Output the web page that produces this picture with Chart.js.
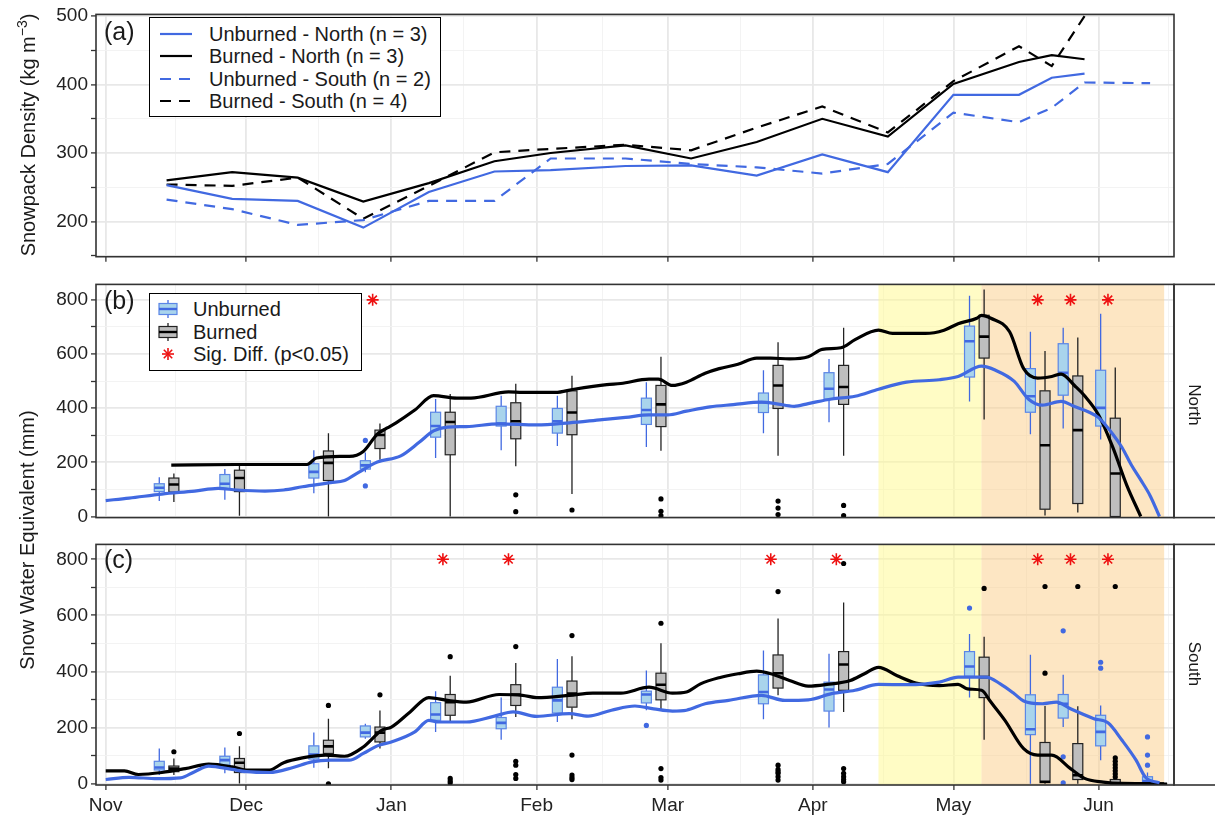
<!DOCTYPE html>
<html>
<head>
<meta charset="utf-8">
<script src="https://cdn.jsdelivr.net/npm/chart.js@4.4.1/dist/chart.umd.min.js"></script>
<style>
  body { margin: 0; background: #fff; }
  #fig { position: relative; width: 1215px; height: 821px; font-family: "Liberation Sans", Arial, sans-serif; color: #1a1a1a; overflow: hidden; }
  canvas { position: absolute; left: 0; }
  .vt { position: absolute; white-space: nowrap; z-index: 2; transform: translate(-50%, -50%) rotate(-90deg); font-size: 20px; }
  .strip { position: absolute; white-space: nowrap; z-index: 2; transform: translate(-50%, -50%) rotate(90deg); font-size: 17px; }
  .tag { position: absolute; font-size: 25px; line-height: 30px; z-index: 2; }
  .legend { position: absolute; box-sizing: border-box; border: 1.5px solid #000; background: #fff; z-index: 2; font-size: 20px; }
  .row { position: absolute; left: 0; height: 24px; line-height: 24px; width: 100%; }
  .row svg { position: absolute; }
  .row span { position: absolute; }
</style>
</head>
<body>
<div id="fig">
  <canvas id="densityChart" width="1215" height="276" style="top:0"></canvas>
  <canvas id="northChart" width="1215" height="262" style="top:270px"></canvas>
  <canvas id="southChart" width="1215" height="291" style="top:530px"></canvas>

  <div class="vt" style="left:27px; top:135px">Snowpack Density (kg m<sup style="font-size:0.7em">−3</sup>)</div>
  <div class="vt" style="left:27px; top:540px">Snow Water Equivalent (mm)</div>
  <div class="strip" style="left:1194px; top:405px">North</div>
  <div class="strip" style="left:1194px; top:664px">South</div>

  <div class="tag" style="left:104px; top:16px">(a)</div>
  <div class="tag" style="left:104px; top:285px">(b)</div>
  <div class="tag" style="left:104px; top:544px">(c)</div>

  <div class="legend" style="left:149px; top:17px; width:292px; height:100px">
    <div class="row" style="top:4px"><svg width="32" height="4" style="left:10px; top:10px"><line x1="0" y1="2" x2="32" y2="2" stroke="#4169E1" stroke-width="2.2"/></svg><span style="left:59px">Unburned - North (n = 3)</span></div>
    <div class="row" style="top:26px"><svg width="32" height="4" style="left:10px; top:10px"><line x1="0" y1="2" x2="32" y2="2" stroke="#000" stroke-width="2.2"/></svg><span style="left:59px">Burned - North (n = 3)</span></div>
    <div class="row" style="top:48.5px"><svg width="32" height="4" style="left:10px; top:10px"><line x1="0" y1="2" x2="32" y2="2" stroke="#4169E1" stroke-width="2.2" stroke-dasharray="11 8"/></svg><span style="left:59px">Unburned - South (n = 2)</span></div>
    <div class="row" style="top:71px"><svg width="32" height="4" style="left:10px; top:10px"><line x1="0" y1="2" x2="32" y2="2" stroke="#000" stroke-width="2.2" stroke-dasharray="11 8"/></svg><span style="left:59px">Burned - South (n = 4)</span></div>
  </div>

  <div class="legend" style="left:149px; top:293px; width:213px; height:78px">
    <div class="row" style="top:3px"><svg width="20" height="18" style="left:8px; top:3px"><line x1="10" y1="0" x2="10" y2="18" stroke="#4169E1" stroke-width="1.3"/><rect x="1" y="3.5" width="18" height="11" fill="#a9d4ec" stroke="#5b86e6" stroke-width="1.2"/><line x1="1" y1="9" x2="19" y2="9" stroke="#4169E1" stroke-width="2.4"/></svg><span style="left:43px">Unburned</span></div>
    <div class="row" style="top:26px"><svg width="20" height="18" style="left:8px; top:3px"><line x1="10" y1="0" x2="10" y2="18" stroke="#222" stroke-width="1.3"/><rect x="1" y="3.5" width="18" height="11" fill="#bebebe" stroke="#222" stroke-width="1.2"/><line x1="1" y1="9" x2="19" y2="9" stroke="#000" stroke-width="2.4"/></svg><span style="left:43px">Burned</span></div>
    <div class="row" style="top:48px"><svg width="20" height="18" style="left:8px; top:3px"><g stroke="#ee1111" stroke-width="1.6"><line x1="4" y1="9" x2="16" y2="9"/><line x1="10" y1="3" x2="10" y2="15"/><line x1="5.8" y1="4.8" x2="14.2" y2="13.2"/><line x1="5.8" y1="13.2" x2="14.2" y2="4.8"/></g></svg><span style="left:43px">Sig. Diff. (p&lt;0.05)</span></div>
  </div>
</div>

<script>
// all dates are days since 1 Nov 2018
const monthDays = [0, 30, 61, 92, 120, 151, 181, 212, 242]
const monthLabels = ['Nov', 'Dec', 'Jan', 'Feb', 'Mar', 'Apr', 'May', 'Jun', 'Jul']

// (a) snowpack density, kg m-3
const densityDays = [13, 27, 41, 55, 69, 83, 95, 111, 125, 139, 153, 167, 181, 195, 202, 209, 223]
const unburnedNorthDensity = [253, 233, 230, 191, 243, 273, 275, 281, 282, 267, 298, 272, 385, 385, 410, 416, null]
const burnedNorthDensity = [260, 272, 264, 229, 256, 288, 300, 311, 292, 316, 350, 324, 401, 433, 443, 437, null]
const unburnedSouthDensity = [232, 218, 195, 202, 230, 230, 292, 292, 284, 279, 270, 284, 359, 345, 366, 403, 402]
const burnedSouthDensity = [254, 252, 264, 204, 252, 301, 306, 312, 304, 337, 368, 330, 405, 456, 427, 500, null]

// (b) North, daily mean SWE (mm)
const northUnburnedDay = [0, 5, 12, 19, 24, 28, 34, 38, 42, 48, 51, 54, 58, 63, 67, 70, 73, 77, 84, 92, 99, 106, 111, 116, 120, 124, 129, 134, 140, 143, 147, 150, 155, 160, 165, 171, 178, 182, 187, 190, 194, 197, 200, 204, 207, 210, 212, 215, 217, 219, 221, 223, 225]
const northUnburnedSwe = [59, 68, 83, 94, 104, 98, 94, 98, 110, 125, 133, 163, 201, 224, 275, 316, 330, 332, 342, 338, 346, 358, 366, 375, 375, 389, 405, 413, 422, 417, 407, 417, 434, 444, 470, 496, 505, 517, 555, 540, 499, 434, 411, 425, 405, 385, 365, 305, 255, 190, 135, 77, 0]
const northBurnedDay = [14, 28, 43, 45, 50, 52, 55, 58, 60, 62, 66, 70, 75, 78, 86, 89, 96, 100, 107, 110, 116, 118, 121, 124, 128, 131, 135, 139, 142, 146, 150, 153, 157, 160, 165, 168, 175, 179, 182, 186, 187, 189, 193, 196, 199, 202, 204, 207, 209, 212, 215, 218, 221]
const northBurnedSwe = [190, 192, 192, 216, 222, 222, 240, 304, 326, 346, 393, 446, 437, 437, 460, 458, 458, 470, 487, 491, 507, 507, 484, 496, 529, 546, 562, 585, 585, 582, 590, 617, 623, 653, 688, 676, 676, 688, 712, 732, 743, 732, 682, 546, 511, 517, 526, 481, 446, 375, 257, 116, 0]

// (c) South, daily mean SWE (mm)
const southUnburnedDay = [0, 5, 11, 16, 19, 22, 27, 30, 35, 40, 44, 48, 52, 55, 58, 61, 66, 69, 71, 77, 83, 87, 92, 99, 103, 108, 113, 117, 121, 124, 128, 133, 140, 145, 150, 155, 160, 165, 171, 178, 182, 188, 191, 194, 196, 200, 203, 206, 211, 214, 217, 220, 222, 225]
const southUnburnedSwe = [15, 23, 18, 21, 43, 63, 51, 43, 40, 58, 78, 84, 84, 108, 135, 149, 185, 226, 220, 220, 241, 256, 240, 250, 241, 262, 277, 267, 259, 262, 285, 297, 315, 297, 299, 321, 333, 354, 353, 362, 380, 380, 356, 321, 295, 285, 291, 267, 232, 217, 155, 84, 23, 3]
const southBurnedDay = [0, 4, 7, 12, 17, 22, 27, 30, 35, 38, 42, 47, 51, 55, 59, 61, 65, 69, 73, 77, 84, 89, 92, 99, 104, 110, 116, 121, 124, 127, 131, 135, 139, 142, 146, 150, 154, 159, 162, 165, 169, 173, 178, 182, 184, 187, 189, 192, 196, 199, 202, 206, 209, 213, 217, 226]
const southBurnedSwe = [46, 46, 33, 40, 54, 70, 60, 49, 49, 75, 92, 102, 98, 131, 191, 202, 256, 307, 297, 291, 318, 315, 307, 315, 323, 323, 344, 323, 327, 356, 378, 392, 401, 392, 368, 348, 354, 368, 392, 415, 385, 359, 350, 354, 338, 333, 291, 226, 125, 102, 102, 54, 19, 6, 1, 0]

// survey boxplots: [lower whisker, q1, median, q3, upper whisker]
const surveyDays = [13, 27, 46, 57, 72, 86, 98, 117, 142, 156, 186, 199, 206, 214, 224]
const northUnburnedBox = [
  [57, 92, 106, 121, 145], [62, 101, 121, 155, 175], [86, 142, 165, 195, 245], [163, 175, 189, 206, 236],
  [216, 293, 334, 385, 434], [245, 334, 343, 407, 446], [260, 308, 352, 399, 446], [257, 340, 393, 437, 496],
  [307, 384, 422, 456, 540], [348, 434, 472, 531, 582], [425, 515, 647, 703, 815], [304, 385, 444, 546, 682],
  [325, 448, 531, 638, 697], [284, 334, 401, 540, 749], null
]
const northBurnedBox = [
  [54, 90, 118, 142, 159], [3, 92, 142, 171, 198], [0, 133, 198, 242, 307], [210, 251, 301, 319, 343],
  [0, 228, 349, 385, 452], [186, 287, 352, 420, 490], [83, 302, 384, 464, 520], [243, 332, 414, 484, 590],
  [224, 399, 484, 558, 643], [224, 414, 478, 558, 697], [358, 585, 664, 743, 838], [4, 27, 263, 464, 611],
  [15, 48, 319, 519, 661], [0, 0, 159, 363, 550], null
]
const northUnburnedOut = [[], [], [], [281, 113], [], [], [], [], [], [], [], [], [], [], []]
const northBurnedOut = [[], [], [], [], [], [80, 18], [24], [65, 19, 3], [57, 31, 7], [41, 3], [], [], [], [], []]
const northSig = [0, 0, 0, 1, 0, 0, 0, 0, 0, 0, 0, 1, 1, 1, 0]

const southUnburnedBox = [
  [31, 49, 58, 80, 126], [37, 66, 84, 98, 129], [57, 88, 104, 135, 183], [160, 167, 182, 206, 214],
  [184, 226, 247, 289, 330], [157, 196, 217, 236, 307], [220, 252, 297, 344, 445], [262, 288, 318, 330, 404],
  [230, 285, 327, 388, 475], [200, 259, 336, 362, 463], [307, 383, 418, 471, 534], [0, 175, 194, 317, 460],
  [202, 234, 285, 318, 388], [84, 135, 185, 244, 279], [0, 2, 10, 25, 40]
]
const southBurnedBox = [
  [31, 43, 54, 63, 90], [1, 40, 75, 90, 134], [55, 108, 133, 155, 232], [126, 149, 182, 202, 261],
  [224, 244, 291, 318, 385], [238, 279, 318, 353, 430], [230, 273, 321, 366, 454], [264, 299, 353, 394, 501],
  [315, 341, 394, 459, 589], [256, 333, 425, 471, 646], [157, 307, 380, 451, 524], [0, 4, 7, 147, 277],
  [0, 15, 30, 143, 276], [0, 0, 2, 15, 15], [0, 0, 0, 0, 0]
]
const southUnburnedOut = [[], [], [], [], [], [], [], [208], [], [], [626], [], [545, 96, 3], [433, 412], [167, 102, 66]]
const southBurnedOut = [
  [114], [179], [279, 0], [317], [453, 19, 10, 3], [489, 80, 66, 33, 19], [528, 102, 31, 22, 15], [572, 54, 22, 13],
  [685, 66, 51, 43, 37, 25, 13], [785, 54, 37, 25, 15, 7], [696], [703, 394], [703], [703, 92, 80, 68, 57, 46, 35, 24], []
]
const southSig = [0, 0, 0, 0, 1, 1, 0, 0, 1, 1, 0, 1, 1, 1, 0]

// melt periods shaded in (b) and (c)
const earlyMelt = [165, 187]
const lateMelt = [187, 226]

const blue = '#4169E1'
const xMin = -2.07, xMax = 228.1

Chart.defaults.font.family = '"Liberation Sans", Arial, sans-serif'
Chart.defaults.font.size = 19
Chart.defaults.color = '#222'

const minorDays = monthDays.slice(1).map((d, i) => (d + monthDays[i]) / 2)
const xGrid = monthDays.concat(minorDays).filter(d => d >= xMin && d <= xMax).sort((a, b) => a - b)
const isMonth = t => t && monthDays.includes(t.value)

function xAxis(labels, marks, height) {
  return {
    type: 'linear', min: xMin, max: xMax,
    afterBuildTicks: s => { s.ticks = xGrid.map(v => ({ value: v })) },
    afterFit: s => { s.height = height },
    border: { display: false },
    grid: {
      color: c => isMonth(c.tick) ? '#e8e8e8' : '#f2f2f2',
      lineWidth: c => isMonth(c.tick) ? 1.8 : 0.9,
      drawTicks: marks, tickLength: 5, tickWidth: 1.3,
      tickColor: c => isMonth(c.tick) ? '#333' : 'rgba(0,0,0,0)'
    },
    ticks: {
      display: labels, autoSkip: false, maxRotation: 0, minRotation: 0, padding: 4,
      callback: v => { const i = monthDays.indexOf(v); return i < 0 ? '' : monthLabels[i] }
    }
  }
}

function yAxis(min, max, step, major) {
  const vals = []
  for (let v = Math.ceil(min / step) * step; v <= max; v += step) vals.push(v)
  const isMajor = t => t && t.value % major === 0
  return {
    min, max,
    afterBuildTicks: s => { s.ticks = vals.map(v => ({ value: v })) },
    afterFit: s => { s.width = 96 },
    border: { display: false },
    grid: {
      color: c => isMajor(c.tick) ? '#e8e8e8' : '#f2f2f2',
      lineWidth: c => isMajor(c.tick) ? 1.8 : 0.9,
      tickLength: 5, tickWidth: 1.3, tickColor: '#333'
    },
    ticks: { padding: 3, callback: v => v % major === 0 ? v : '' }
  }
}

function drawBoxes(ctx, x, y, stats, outs, dx, st) {
  const w = 10
  stats.forEach((s, i) => {
    if (!s) return
    const cx = x.getPixelForValue(surveyDays[i]) + dx
    const [lo, q1, med, q3, hi] = s.map(v => y.getPixelForValue(v))
    ctx.lineWidth = 1.3
    ctx.strokeStyle = st.whisker
    ctx.beginPath()
    ctx.moveTo(cx, hi); ctx.lineTo(cx, q3)
    ctx.moveTo(cx, q1); ctx.lineTo(cx, lo)
    ctx.stroke()
    ctx.fillStyle = st.fill
    ctx.fillRect(cx - w / 2, q3, w, q1 - q3)
    ctx.lineWidth = 1.2
    ctx.strokeStyle = st.edge
    ctx.strokeRect(cx - w / 2, q3, w, q1 - q3)
    ctx.lineWidth = 2.6
    ctx.strokeStyle = st.median
    ctx.beginPath(); ctx.moveTo(cx - w / 2, med); ctx.lineTo(cx + w / 2, med); ctx.stroke()
    ctx.fillStyle = st.dot
    for (const v of outs[i]) {
      ctx.beginPath(); ctx.arc(cx, y.getPixelForValue(v), 2.6, 0, Math.PI * 2); ctx.fill()
    }
  })
}

const unburnedStyle = { fill: '#a9d4ec', edge: '#5b86e6', whisker: blue, median: blue, dot: blue }
const burnedStyle = { fill: '#bebebe', edge: '#222', whisker: '#222', median: '#000', dot: '#000' }

const panelPlugin = {
  id: 'panel',
  beforeDatasetsDraw(chart, args, o) {
    const { ctx, chartArea: a, scales: { x, y } } = chart
    ctx.save()
    ctx.beginPath(); ctx.rect(a.left, a.top, a.width, a.height); ctx.clip()
    if (o.shade) {
      const band = (r, c) => {
        const x0 = x.getPixelForValue(r[0]), x1 = x.getPixelForValue(r[1])
        ctx.fillStyle = c
        ctx.fillRect(x0, a.top, x1 - x0, a.height)
      }
      band(earlyMelt, 'rgba(255, 250, 140, 0.5)')
      band(lateMelt, 'rgba(252, 205, 135, 0.5)')
    }
    if (o.boxes) {
      drawBoxes(ctx, x, y, o.boxes[0], o.boxes[1], -7.3, unburnedStyle)
      drawBoxes(ctx, x, y, o.boxes[2], o.boxes[3], 7.3, burnedStyle)
    }
    ctx.restore()
  },
  afterDraw(chart, args, o) {
    const { ctx, chartArea: a } = chart
    ctx.save()
    ctx.strokeStyle = '#333'
    ctx.lineWidth = 1.6
    ctx.strokeRect(a.left, a.top, a.width, a.height)
    if (o.strip) ctx.strokeRect(a.right, a.top, 80, a.height)
    ctx.restore()
  }
}

const pts = (xs, ys) => xs.map((d, i) => ({ x: d, y: ys[i] })).filter(p => p.y !== null)

function lineSet(xs, ys, color, width, dash, smooth) {
  return {
    data: pts(xs, ys), showLine: true, borderColor: color, borderWidth: width,
    borderDash: dash || [], pointRadius: 0, fill: false,
    cubicInterpolationMode: smooth ? 'monotone' : 'default', tension: 0
  }
}

function starSet(sig) {
  return {
    data: surveyDays.map((d, i) => sig[i] ? { x: d, y: 800 } : null).filter(Boolean),
    pointStyle: 'star', pointRadius: 6, borderColor: '#ee1111', borderWidth: 1.6, backgroundColor: '#ee1111'
  }
}

function common(padding, scales, pluginOpts) {
  return {
    responsive: false, animation: false, devicePixelRatio: 1,
    layout: { padding },
    plugins: { legend: { display: false }, tooltip: { enabled: false }, panel: pluginOpts },
    scales
  }
}

new Chart(document.getElementById('densityChart'), {
  type: 'scatter',
  data: {
    datasets: [
      lineSet(densityDays, unburnedNorthDensity, blue, 2.2),
      lineSet(densityDays, burnedNorthDensity, '#000', 2.2),
      lineSet(densityDays, unburnedSouthDensity, blue, 2.2, [11, 8]),
      lineSet(densityDays, burnedSouthDensity, '#000', 2.2, [11, 8])
    ]
  },
  options: common({ top: 13.3, right: 41, left: 0, bottom: 0 },
    { x: xAxis(false, true, 19.3), y: yAxis(148.5, 502.5, 50, 100) }, {}),
  plugins: [panelPlugin]
})

new Chart(document.getElementById('northChart'), {
  type: 'scatter',
  data: {
    datasets: [
      lineSet(northUnburnedDay, northUnburnedSwe, blue, 3.2, null, true),
      lineSet(northBurnedDay, northBurnedSwe, '#000', 3.2, null, true),
      starSet(northSig)
    ]
  },
  options: common({ top: 13.3, right: 41, left: 0, bottom: 5.3 },
    { x: xAxis(false, false, 0), y: yAxis(-4, 857, 100, 200) },
    { shade: true, strip: true, boxes: [northUnburnedBox, northUnburnedOut, northBurnedBox, northBurnedOut] }),
  plugins: [panelPlugin]
})

new Chart(document.getElementById('southChart'), {
  type: 'scatter',
  data: {
    datasets: [
      lineSet(southUnburnedDay, southUnburnedSwe, blue, 3.2, null, true),
      lineSet(southBurnedDay, southBurnedSwe, '#000', 3.2, null, true),
      starSet(southSig)
    ]
  },
  options: common({ top: 13.3, right: 41, left: 0, bottom: 0 },
    { x: xAxis(true, true, 36), y: yAxis(-4.5, 853, 100, 200) },
    { shade: true, strip: true, boxes: [southUnburnedBox, southUnburnedOut, southBurnedBox, southBurnedOut] }),
  plugins: [panelPlugin]
})
</script>
</body>
</html>
